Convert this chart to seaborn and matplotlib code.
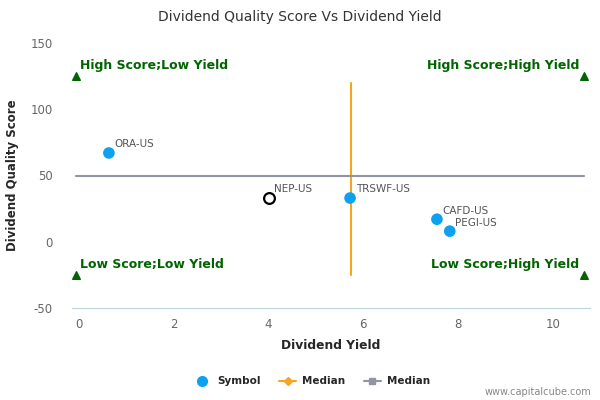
import pandas as pd
import matplotlib.pyplot as plt
import seaborn as sns
from matplotlib.lines import Line2D

symbols = ['ORA-US', 'NEP-US', 'TRSWF-US', 'CAFD-US', 'PEGI-US']
dividend_yield = [0.64, 4.01, 5.72, 7.55, 7.82]
quality_score = [67, 33, 33, 17, 8]
median_yield = 5.73
median_score = 50
yield_span = [-0.05, 10.64]
score_span = [-25, 120]
corner_labels = ['High Score;Low Yield', 'High Score;High Yield',
                 'Low Score;Low Yield', 'Low Score;High Yield']
corner_x = [-0.05, 10.64, -0.05, 10.64]
corner_y = [125, 125, -25, -25]

df = pd.DataFrame({'Symbol': symbols, 'Dividend Yield': dividend_yield,
                   'Dividend Quality Score': quality_score})
df['is_self'] = df['Symbol'] == 'NEP-US'

sns.set_style("white")
plt.rcParams['font.family'] = ['DejaVu Sans']
plt.rcParams['axes.unicode_minus'] = False

fig = plt.figure(figsize=(6, 4), dpi=100)
ax = fig.add_axes([0.12, 0.23, 0.863, 0.6625])

blue = '#0ea1ef'
orange = '#f8a51e'
grey = '#8f95a3'
green = '#006400'

# median lines
ax.plot([median_yield, median_yield], score_span, color=orange, lw=1.5, zorder=2)
ax.plot(yield_span, [median_score, median_score], color=grey, lw=1.5, zorder=2)

others = df[~df['is_self']]
sns.scatterplot(data=others, x='Dividend Yield', y='Dividend Quality Score',
                color=blue, s=70, edgecolor='none', ax=ax, zorder=3, legend=False)
sns.scatterplot(data=df[df['is_self']], x='Dividend Yield', y='Dividend Quality Score',
                facecolor='white', edgecolor='black', linewidth=1.6, s=60, ax=ax,
                zorder=3, legend=False)

for s, x, y in zip(symbols, dividend_yield, quality_score):
    ax.annotate(s, (x, y), xytext=(4, 4), textcoords='offset points',
                fontsize=7.5, color='#555555')

# quadrant markers
ax.scatter(corner_x, corner_y, marker='^', color=green, s=30, zorder=3)
for lab, x, y in zip(corner_labels, corner_x, corner_y):
    ha = 'left' if x < 5 else 'right'
    off = 3 if x < 5 else -3
    ax.annotate(lab, (x, y), xytext=(off, 3), textcoords='offset points',
                ha=ha, va='bottom', fontsize=9, fontweight='bold', color=green)

ax.set_xlim(-0.137, 10.77)
ax.set_ylim(-50, 150)
ax.set_xticks([0, 2, 4, 6, 8, 10])
ax.set_yticks([-50, 0, 50, 100, 150])
ax.tick_params(axis='x', length=5, color='#c0d0e0', colors='#666666', labelsize=8.5, pad=2)
ax.tick_params(axis='y', length=0, colors='#666666', labelsize=8.5, pad=14)
for side in ['top', 'right', 'left']:
    ax.spines[side].set_visible(False)
ax.spines['bottom'].set_color('#c0d0e0')
ax.set_xlabel('Dividend Yield', fontsize=8.8, fontweight='bold', labelpad=6)
ax.set_ylabel('Dividend Quality Score', fontsize=8.5, fontweight='bold', labelpad=8)

fig.text(0.5, 0.958, 'Dividend Quality Score Vs Dividend Yield', ha='center', va='center',
         fontsize=10, color='#333333')

handles = [
    Line2D([], [], marker='o', color=blue, lw=0, markersize=7),
    Line2D([], [], marker='D', color=orange, lw=1.5, markersize=4),
    Line2D([], [], marker='s', color=grey, lw=1.5, markersize=5),
]
fig.legend(handles, ['Symbol', 'Median', 'Median'], loc='center', bbox_to_anchor=(0.52, 0.047),
           ncol=3, frameon=False, prop={'weight': 'bold', 'size': 7.5},
           handlelength=1.6, columnspacing=1.8, handletextpad=0.6)
fig.text(0.985, 0.02, 'www.capitalcube.com', ha='right', va='center', fontsize=7, color='#888888')

fig.savefig('out.png', dpi=100)
